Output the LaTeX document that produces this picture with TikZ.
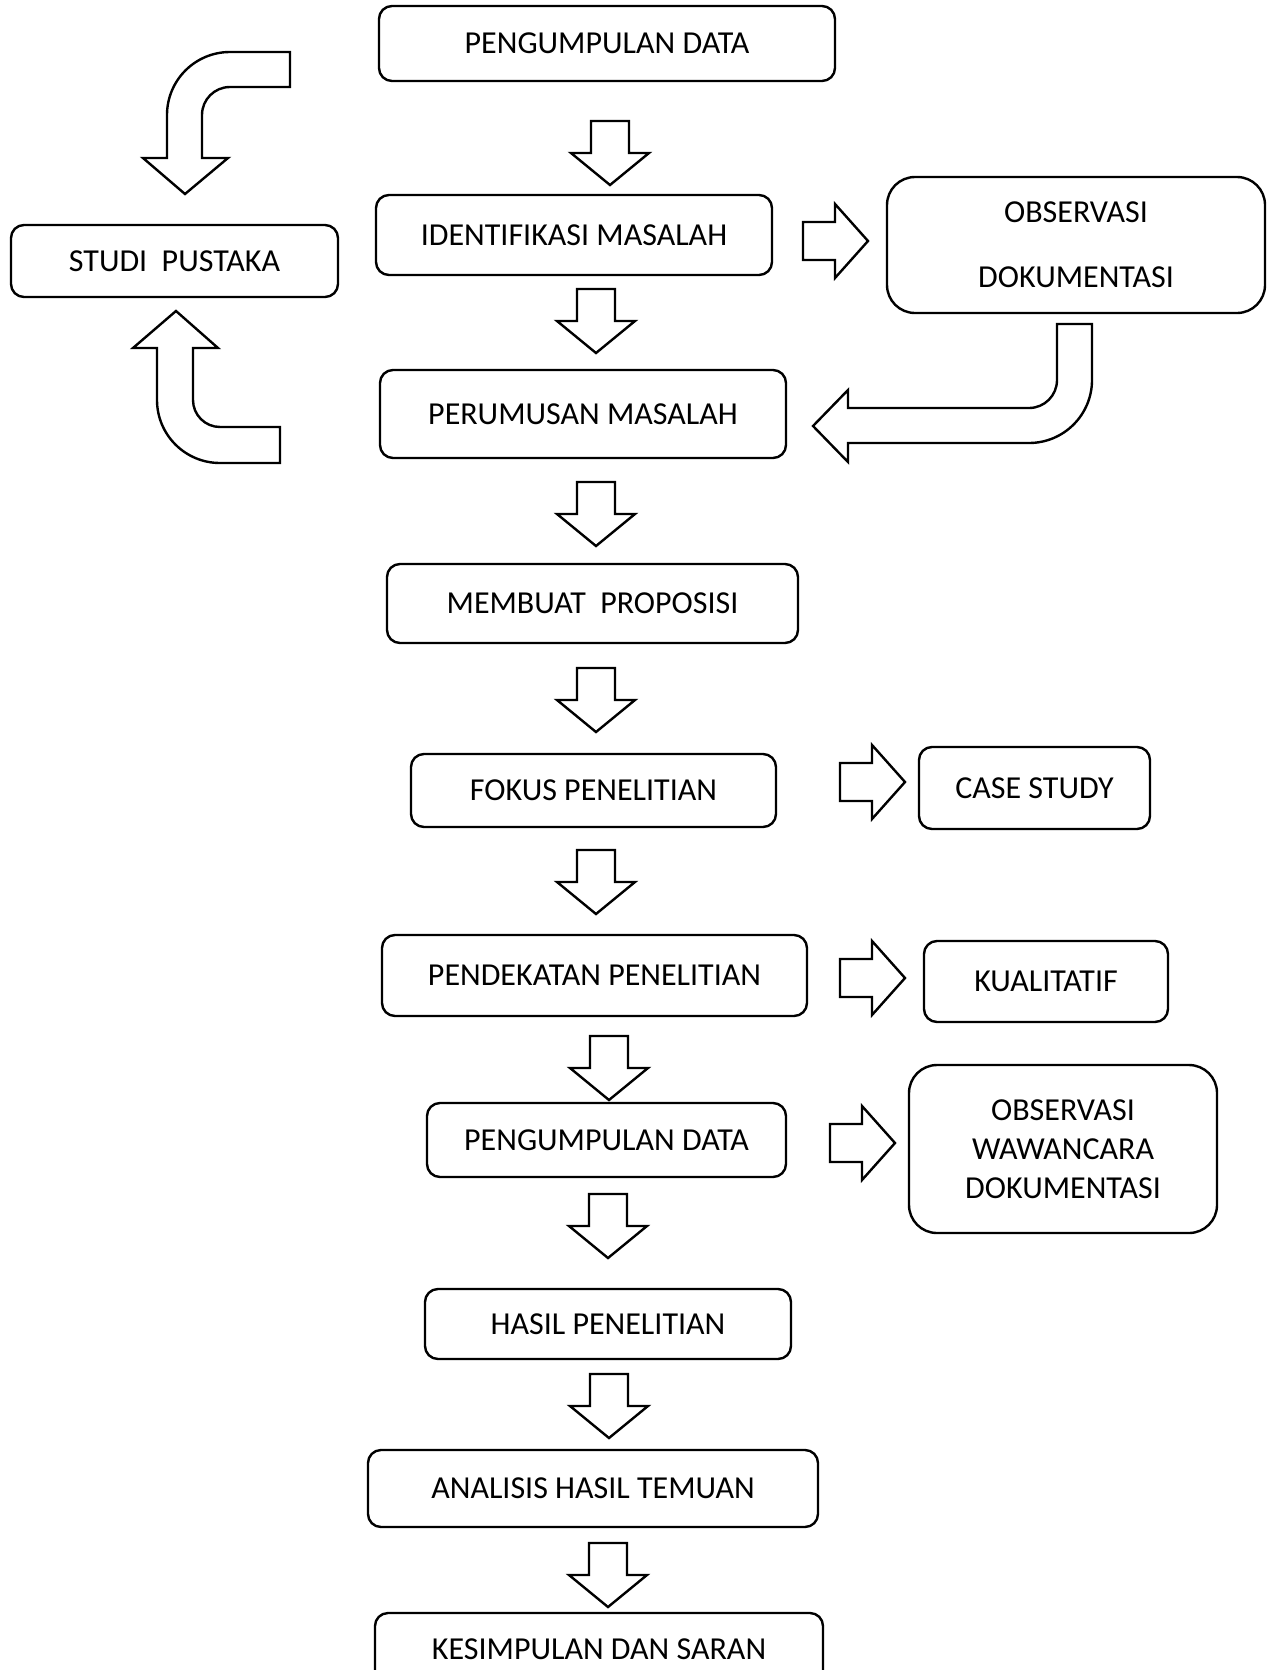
\documentclass[tikz,border=0pt]{standalone}
\usepackage{fontspec}
\setmainfont{Carlito}
\tikzset{
	box/.style={draw, rounded corners=13pt, line width=2.4pt, inner sep=0pt, align=center,
		font=\fontsize{32}{38}\selectfont},
	blk/.style={draw, line width=2.4pt, line join=miter},
}
% block arrow pointing down: #1 = x of middle, #2 = y of top
\newcommand{\dnarrow}[2]{%
	\draw[blk] (#1-19,#2) -- (#1+19,#2) -- (#1+19,#2+32) -- (#1+39,#2+32)
	-- (#1,#2+64) -- (#1-39,#2+32) -- (#1-19,#2+32) -- cycle;}
% block arrow pointing right: #1 = x of left end, #2 = y of middle
\newcommand{\rtarrow}[2]{%
	\draw[blk] (#1,#2-19) -- (#1+32,#2-19) -- (#1+32,#2-37) -- (#1+65,#2)
	-- (#1+32,#2+37) -- (#1+32,#2+19) -- (#1,#2+19) -- cycle;}
\begin{document}
\begin{tikzpicture}[x=1pt,y=-1pt]
		\clip (0,0) rectangle (1275,1670);
		
		% main column
		\node[box, minimum width=456pt, minimum height=75pt] (pd1) at (607,43.5) {PENGUMPULAN DATA};
		\node[box, minimum width=396pt, minimum height=80pt] (idm) at (574,235) {IDENTIFIKASI MASALAH};
		\node[box, minimum width=406pt, minimum height=88pt] (prm) at (583,414) {PERUMUSAN MASALAH};
		\node[box, minimum width=411pt, minimum height=79pt] (mbp) at (592.5,603.5) {MEMBUAT\ \ PROPOSISI};
		\node[box, minimum width=365pt, minimum height=73pt] (fks) at (593.5,790.5) {FOKUS PENELITIAN};
		\node[box, minimum width=425pt, minimum height=81pt] (pdk) at (594.5,975.5) {PENDEKATAN PENELITIAN};
		\node[box, minimum width=359pt, minimum height=74pt] (pd2) at (606.5,1140) {PENGUMPULAN DATA};
		\node[box, minimum width=366pt, minimum height=70pt] (hsl) at (608,1324) {HASIL PENELITIAN};
		\node[box, minimum width=450pt, minimum height=77pt] (ans) at (593,1488.5) {ANALISIS HASIL TEMUAN};
		\node[box, minimum width=448pt, minimum height=73pt] (ksp) at (599,1649.5) {KESIMPULAN DAN SARAN};
		
		% side boxes
		\node[box, minimum width=327pt, minimum height=72pt] (stp) at (174.5,261) {STUDI\ \ PUSTAKA};
		\node[box, rounded corners=28pt, minimum width=378pt, minimum height=136pt,
			font=\fontsize{32}{65}\selectfont] (obs1) at (1076,245) {OBSERVASI\\DOKUMENTASI};
		\node[box, minimum width=231pt, minimum height=82pt] (cs) at (1034.5,788) {CASE STUDY};
		\node[box, minimum width=244pt, minimum height=81pt] (kl) at (1046,981.5) {KUALITATIF};
		\node[box, rounded corners=28pt, minimum width=308pt, minimum height=168pt,
			font=\fontsize{32}{39}\selectfont] (obs2) at (1063,1149) {OBSERVASI\\WAWANCARA\\DOKUMENTASI};
		
		% down arrows
		\foreach \x/\y in {610/121, 596/289, 596/482, 596/668, 596/850,
			609/1036, 608/1194, 609/1374, 608/1543}
		{\dnarrow{\x}{\y}}
		
		% right arrows
		\rtarrow{803}{241}
		\rtarrow{840}{782}
		\rtarrow{840}{978}
		\rtarrow{830}{1143}
		
		% curved arrow into studi pustaka (top)
		\draw[blk] (290,52) -- (230,52) .. controls (195.2,52) and (167,80.2) .. (167,115)
		-- (167,158) -- (143,158) -- (185,194) -- (228,158) -- (202,158) -- (202,115)
		.. controls (202,99.5) and (214.5,87) .. (230,87) -- (290,87) -- cycle;
		
		% curved arrow into studi pustaka (bottom)
		\draw[blk] (176,311) -- (218,348) -- (193,348) -- (193,400)
		.. controls (193,414.9) and (205.1,427) .. (220,427) -- (280,427) -- (280,463)
		-- (220,463) .. controls (185.2,463) and (157,434.8) .. (157,400)
		-- (157,348) -- (133,348) -- cycle;
		
		% curved arrow from observasi back to perumusan
		\draw[blk] (1057,324) -- (1092,324) -- (1092,380)
		.. controls (1092,414.8) and (1063.8,443) .. (1029,443) -- (848,443)
		-- (848,462) -- (813,426) -- (848,390) -- (848,408) -- (1029,408)
		.. controls (1044.5,408) and (1057,395.5) .. (1057,380) -- cycle;
\end{tikzpicture}
\end{document}
